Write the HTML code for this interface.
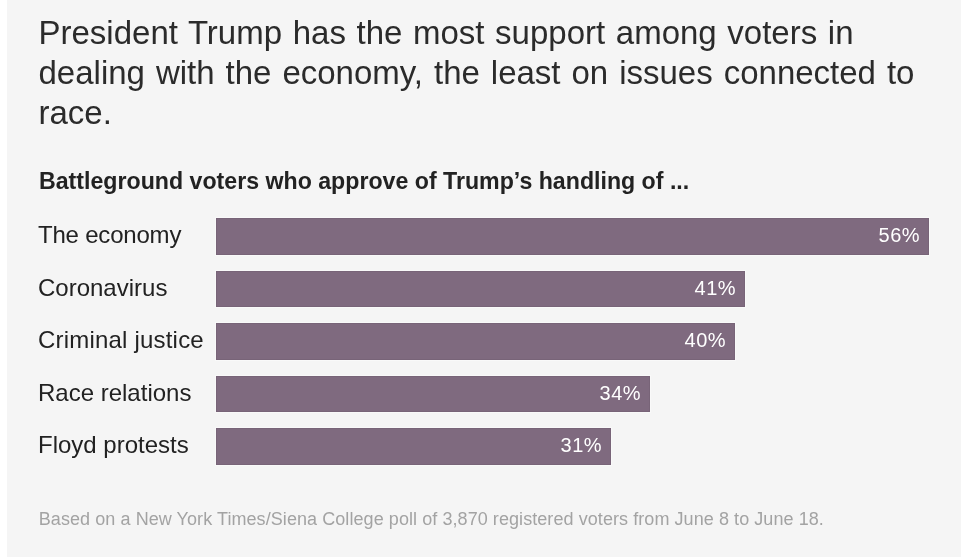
<!DOCTYPE html>
<html>
<head>
<meta charset="utf-8">
<style>
html, body { margin: 0; padding: 0; background: #ffffff; }
body { width: 980px; height: 557px; position: relative; overflow: hidden; }
#card { position: absolute; left: 7px; top: 0; width: 954px; height: 557px; background: #f5f5f5; will-change: transform; }
.t { position: absolute; white-space: nowrap; font-family: "Liberation Sans", Arial, sans-serif; color: #222222; }
#hed { color: #2b2b2b; left: 31.5px; top: 13.3px; font-size: 33px; line-height: 39.7px; word-spacing: 1.5px; }
#sub { left: 32px; top: 166.3px; font-size: 24px; line-height: 30px; font-weight: 700; transform: scaleX(0.965); transform-origin: 0 0; }
.row { position: absolute; left: 0; width: 954px; height: 36.5px; }
.lab { position: absolute; left: 31px; top: 0; font-size: 24px; line-height: 34px; white-space: nowrap; font-family: "Liberation Sans", Arial, sans-serif; color: #222222; }
.bar { position: absolute; left: 209px; top: 0; height: 36.5px; background: #7f6a7f; box-shadow: 0 0 0 1px rgba(255,255,255,0.45), inset 0 0 0 1px rgba(0,0,0,0.05); }
.val { position: absolute; right: 8.9px; top: -0.9px; font-size: 20px; line-height: 36.5px; letter-spacing: 0.5px; color: #ffffff; white-space: nowrap; font-family: "Liberation Sans", Arial, sans-serif; }
#foot { left: 31.8px; top: 503.5px; font-size: 18px; line-height: 30px; color: #a3a3a3; letter-spacing: 0.07px; }
</style>
</head>
<body>
<div id="card">
  <div class="t" id="hed"><div style="word-spacing:1.45px">President Trump has the most support among voters in</div><div style="word-spacing:1.8px">dealing with the economy, the least on issues connected to</div><div>race.</div></div>
  <div class="t" id="sub">Battleground voters who approve of Trump’s handling of ...</div>

  <div class="row" style="top:218px"><div class="lab" style="letter-spacing:-0.2px">The economy</div><div class="bar" style="width:713px"><span class="val">56%</span></div></div>
  <div class="row" style="top:270.5px"><div class="lab">Coronavirus</div><div class="bar" style="width:529px"><span class="val">41%</span></div></div>
  <div class="row" style="top:323px"><div class="lab" style="letter-spacing:0.2px">Criminal justice</div><div class="bar" style="width:519px"><span class="val">40%</span></div></div>
  <div class="row" style="top:375.5px"><div class="lab">Race relations</div><div class="bar" style="width:434px"><span class="val">34%</span></div></div>
  <div class="row" style="top:428px"><div class="lab">Floyd protests</div><div class="bar" style="width:395px"><span class="val">31%</span></div></div>

  <div class="t" id="foot">Based on a New York Times/Siena College poll of 3,870 registered voters from June 8 to June 18.</div>
</div>
</body>
</html>
